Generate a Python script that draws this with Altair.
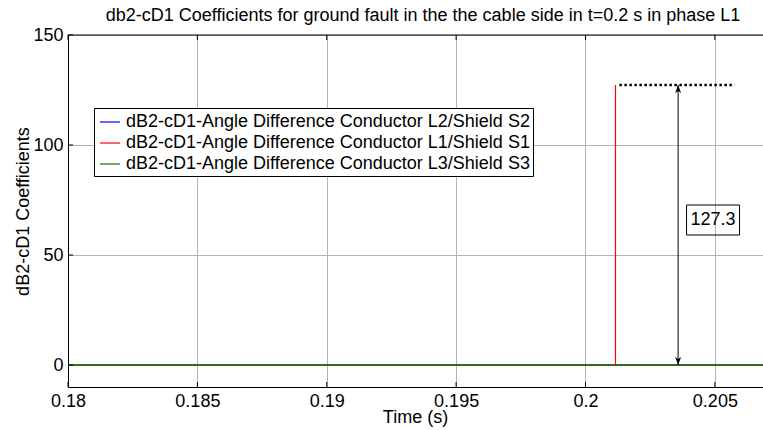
import altair as alt
import pandas as pd

# ---- traces (time in s, coefficient value) ----
t_l2 = [0.18, 0.2069]
v_l2 = [0.0, 0.0]
t_l1 = [0.18, 0.20116, 0.20116, 0.20116, 0.2069]
v_l1 = [0.0, 0.0, 127.3, 0.0, 0.0]
t_l3 = [0.18, 0.2069]
v_l3 = [0.0, 0.0]

series_names = [
    "dB2-cD1-Angle Difference Conductor L2/Shield S2",
    "dB2-cD1-Angle Difference Conductor L1/Shield S1",
    "dB2-cD1-Angle Difference Conductor L3/Shield S3",
]
series_colors = ["#0000ff", "#ff0000", "#008000"]
series_widths = [1.2, 1.2, 1.6]

x_ticks = [0.18, 0.185, 0.19, 0.195, 0.2, 0.205]
y_ticks = [0, 50, 100, 150]
x_domain = [0.18, 0.20686]
y_domain = [-10, 150]

# ---- peak annotation ----
peak_value = 127.3
peak_label = "127.3"
arrow_t = 0.20358
level_t = [0.20131, 0.20576]
label_t = 0.20493
label_v = 65.9

TITLE = "db2-cD1 Coefficients for ground fault in the the cable side in t=0.2 s in phase L1"
FONT = "Liberation Sans"
FS = 18
W, H = 695, 352
GRID = "#b4b4b4"

rows = []
for name, ts, vs in zip(series_names, [t_l2, t_l1, t_l3], [v_l2, v_l1, v_l3]):
    for i, (t, v) in enumerate(zip(ts, vs)):
        rows.append({"series": name, "t": t, "v": v, "idx": i})
traces = pd.DataFrame(rows)

xs = alt.Scale(domain=x_domain, nice=False, zero=False)
ys = alt.Scale(domain=y_domain, nice=False, zero=False)

color = alt.Color(
    "series:N",
    scale=alt.Scale(domain=series_names, range=series_colors),
    legend=alt.Legend(
        title=None, orient="none", legendX=26, legendY=73,
        symbolType="stroke", symbolSize=400, symbolStrokeWidth=1.2,
        labelFont=FONT, labelFontSize=FS, labelColor="black", labelLimit=0,
        labelOffset=5, symbolOffset=2, padding=3, rowPadding=1,
        strokeColor="black", fillColor="white", cornerRadius=0,
    ),
)

x_axis = alt.Axis(
    values=x_ticks, format="~g", grid=True, gridColor=GRID, gridWidth=1,
    domainColor="black", domainWidth=1, tickSize=0, labelFont=FONT,
    labelFontSize=FS, labelColor="black", labelPadding=5, labelFlush=False,
    labelOverlap=False, title="Time (s)", titleFont=FONT, titleFontSize=FS,
    titleFontWeight="normal", titleColor="black", titleX=347, titleY=30,
    titleBaseline="middle", titleAlign="center",
)
y_axis = alt.Axis(
    values=y_ticks, grid=True, gridColor=GRID, gridWidth=1,
    domainColor="black", domainWidth=1, tickSize=0, labelFont=FONT,
    labelFontSize=FS, labelColor="black", labelPadding=5,
    title="dB2-cD1 Coefficients", titleFont=FONT, titleFontSize=FS,
    titleFontWeight="normal", titleColor="black", titleX=-45, titleY=176,
    titleAngle=270, titleBaseline="middle", titleAlign="center",
)


def X(field):
    return alt.X(field, scale=xs, axis=x_axis)


def Y(field):
    return alt.Y(field, scale=ys, axis=y_axis)


base = alt.Chart(traces)


def trace_layer(name, width):
    return base.transform_filter(alt.datum.series == name).mark_line(
        strokeWidth=width, clip=True
    ).encode(x=X("t:Q"), y=Y("v:Q"), color=color, order="idx:Q")


lines = [trace_layer(n, w) for n, w in zip(series_names, series_widths)]

# frame: top border and inward tick marks
top_border = alt.Chart(pd.DataFrame({"k": [0]})).mark_rule(
    color="black", strokeWidth=1
).encode(x=alt.value(0), x2=alt.value(W), y=alt.value(0))

xt = pd.DataFrame({"t": x_ticks})
yt = pd.DataFrame({"v": y_ticks})
x_ticks_bottom = alt.Chart(xt).mark_rule(color="black", strokeWidth=1).encode(
    x=X("t:Q"), y=alt.value(H - 5), y2=alt.value(H)
)
x_ticks_top = alt.Chart(xt).mark_rule(color="black", strokeWidth=1).encode(
    x=X("t:Q"), y=alt.value(0), y2=alt.value(5)
)
y_ticks_left = alt.Chart(yt).mark_rule(color="black", strokeWidth=1).encode(
    y=Y("v:Q"), x=alt.value(0), x2=alt.value(5)
)

# peak level (dotted), double-headed arrow and value box
level = alt.Chart(
    pd.DataFrame({"t": [level_t[0]], "t2": [level_t[1]], "v": [peak_value]})
).mark_rule(color="black", strokeWidth=2.5, strokeDash=[2.5, 2.5]).encode(
    x=X("t:Q"), x2="t2:Q", y=Y("v:Q")
)
arrow_df = pd.DataFrame({"t": [arrow_t], "v": [0.0], "v1": [peak_value]})
shaft = alt.Chart(arrow_df).mark_rule(color="black", strokeWidth=1).encode(
    x=X("t:Q"), y=Y("v:Q"), y2="v1:Q"
)
head_up = alt.Chart(
    pd.DataFrame({"t": [arrow_t], "v": [peak_value]})
).mark_point(
    shape="M0,0 L0.75,2 L0,1.5 L-0.75,2 Z", filled=True, color="black",
    size=64, opacity=1,
).encode(x=X("t:Q"), y=Y("v:Q"))
head_down = alt.Chart(pd.DataFrame({"t": [arrow_t], "v": [0.0]})).mark_point(
    shape="M0,0 L0.75,-2 L0,-1.5 L-0.75,-2 Z", filled=True, color="black",
    size=64, opacity=1,
).encode(x=X("t:Q"), y=Y("v:Q"))

label_df = pd.DataFrame({"t": [label_t], "v": [label_v], "txt": [peak_label]})
label_box = alt.Chart(label_df).mark_point(
    shape="M-1,-0.566 L1,-0.566 L1,0.566 L-1,0.566 Z", filled=False,
    stroke="black", strokeWidth=1, size=2809, opacity=1,
).encode(x=X("t:Q"), y=Y("v:Q"))
label_text = alt.Chart(label_df).mark_text(
    font=FONT, fontSize=FS, color="black", align="center", baseline="middle"
).encode(x=X("t:Q"), y=Y("v:Q"), text="txt:N")

# chart heading, set above the plot frame
heading = alt.Chart(pd.DataFrame({"txt": [TITLE]})).mark_text(
    font=FONT, fontSize=FS, color="black", align="center", baseline="middle"
).encode(x=alt.value(355), y=alt.value(-19), text="txt:N")

chart = alt.layer(
    *lines, top_border, x_ticks_bottom, x_ticks_top, y_ticks_left,
    level, shaft, head_up, head_down, label_box, label_text, heading,
).properties(
    width=W, height=H,
    autosize=alt.AutoSizeParams(type="none"),
    padding={"left": 68, "top": 35, "right": 0, "bottom": 43},
).configure_view(stroke=None).configure(background="white")

chart.save("out.html", embed_options={"renderer": "svg", "actions": False})
